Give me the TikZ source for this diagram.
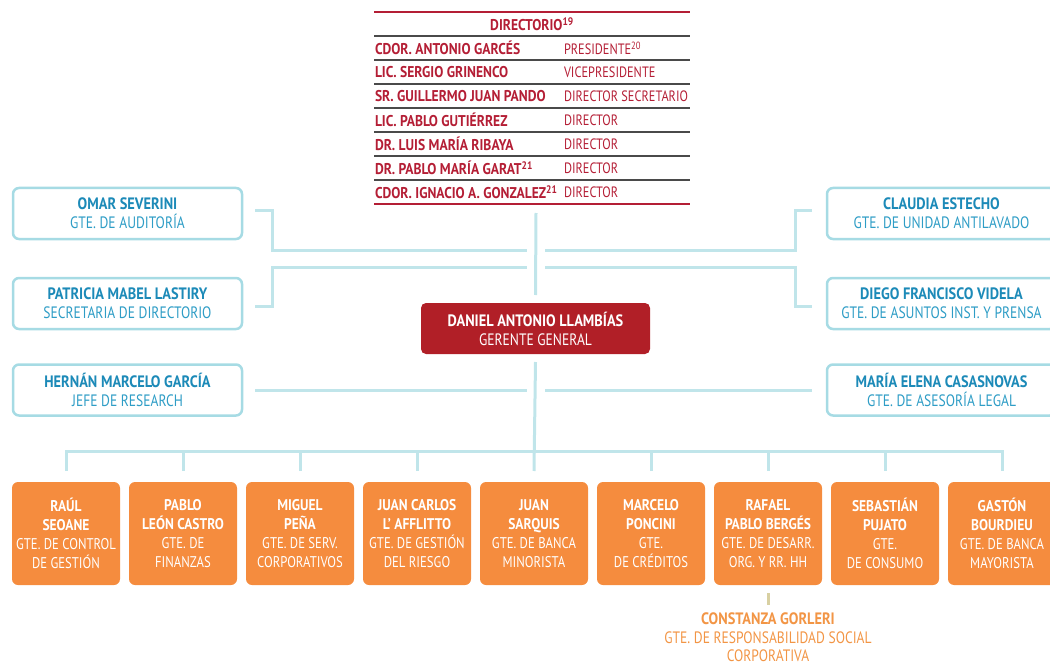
\documentclass[tikz,border=0pt]{standalone}
\usepackage{fontspec}
\setmainfont{PT Sans}[FakeStretch=0.82,BoldFeatures={FakeStretch=0.87}]
\usetikzlibrary{positioning}
\usetikzlibrary{backgrounds}
\usetikzlibrary{calc}
\definecolor{dirred}{HTML}{B41E35}
\definecolor{rulegray}{HTML}{4A4A4A}
\definecolor{sideblue}{HTML}{A6DBE4}
\definecolor{connblue}{HTML}{C0E5EA}
\definecolor{nameblue}{HTML}{1C8AB8}
\definecolor{titleblue}{HTML}{2E9DC6}
\definecolor{gerred}{HTML}{B11F27}
\definecolor{mgrorange}{HTML}{F58C3E}
\definecolor{rsorange}{HTML}{F29545}
\definecolor{rstan}{HTML}{D8D0A2}

\begin{document}
\begin{tikzpicture}[x=1pt,y=-1pt,
	txt/.style={font=\fontsize{16.5}{19}\selectfont,inner sep=0pt,outer sep=0pt},
	dirname/.style={txt,text=dirred,anchor=west,font=\fontsize{15.6}{19}\selectfont\bfseries},
	dirrole/.style={txt,text=dirred,anchor=west,font=\fontsize{15}{19}\selectfont},
	sidebox/.style={txt,draw=sideblue,line width=2.5pt,fill=white,rounded corners=6pt,minimum width=229pt,minimum height=51pt,align=center},
	gerbox/.style={txt,fill=gerred,text=white,rounded corners=5pt,minimum width=229pt,minimum height=51pt,align=center},
	mgrbox/.style={txt,font=\fontsize{15.5}{19}\selectfont,fill=mgrorange,text=white,rounded corners=6pt,minimum width=108pt,minimum height=103pt,align=center},
	conn/.style={connblue,line width=3pt},
	tabrule/.style={rulegray,line width=1.4pt}]

	\useasboundingbox (0,0) rectangle (1050,666);

	% directorio
	\draw[dirred,line width=1.2pt] (374,12) -- (690,12);
	\draw[tabrule] (374,36) -- (690,36);
	\draw[tabrule] (374,60) -- (690,60);
	\draw[tabrule] (374,84) -- (690,84);
	\draw[tabrule] (374,108) -- (690,108);
	\draw[tabrule] (374,132) -- (690,132);
	\draw[tabrule] (374,156) -- (690,156);
	\draw[tabrule] (374,180) -- (690,180);
	\draw[dirred,line width=1.2pt] (374,204) -- (690,204);

	\node[dirname,anchor=center] at (532,24) (dir) {DIRECTORIO\textsuperscript{19}};
	\node[dirname] at (375,48) (n1) {CDOR. ANTONIO GARCÉS};
	\node[dirname] at (375,72) (n2) {LIC. SERGIO GRINENCO};
	\node[dirname] at (375,96) (n3) {SR. GUILLERMO JUAN PANDO};
	\node[dirname] at (375,120) (n4) {LIC. PABLO GUTIÉRREZ};
	\node[dirname] at (375,144) (n5) {DR. LUIS MARÍA RIBAYA};
	\node[dirname] at (375,168) (n6) {DR. PABLO MARÍA GARAT\textsuperscript{21}};
	\node[dirname] at (375,192) (n7) {CDOR. IGNACIO A. GONZALEZ\textsuperscript{21}};
	\node[dirrole] at (564,48) (r1) {PRESIDENTE\textsuperscript{20}};
	\node[dirrole] at (564,72) (r2) {VICEPRESIDENTE};
	\node[dirrole] at (564,96) (r3) {DIRECTOR SECRETARIO};
	\node[dirrole] at (564,120) (r4) {DIRECTOR};
	\node[dirrole] at (564,144) (r5) {DIRECTOR};
	\node[dirrole] at (564,168) (r6) {DIRECTOR};
	\node[dirrole] at (564,192) (r7) {DIRECTOR};

	% gerencias de staff
	\node[sidebox] at (127.5,213.5) (omar)
	{\textcolor{nameblue}{\bfseries OMAR SEVERINI}\\\textcolor{titleblue}{GTE. DE AUDITORÍA}};
	\node[sidebox] at (127.5,303.5) (patricia)
	{\textcolor{nameblue}{\bfseries PATRICIA MABEL LASTIRY}\\\textcolor{titleblue}{SECRETARIA DE DIRECTORIO}};
	\node[sidebox] at (127.5,390) (hernan)
	{\textcolor{nameblue}{\bfseries HERNÁN MARCELO GARCÍA}\\\textcolor{titleblue}{JEFE DE RESEARCH}};
	\node[sidebox] at (941.5,213.5) (claudia)
	{\textcolor{nameblue}{\bfseries CLAUDIA ESTECHO}\\\textcolor{titleblue}{GTE. DE UNIDAD ANTILAVADO}};
	\node[sidebox] at (941.5,303.5) (diego)
	{\textcolor{nameblue}{\bfseries DIEGO FRANCISCO VIDELA}\\\textcolor{titleblue}{GTE. DE ASUNTOS INST. Y PRENSA}};
	\node[sidebox] at (941.5,390) (maria)
	{\textcolor{nameblue}{\bfseries MARÍA ELENA CASASNOVAS}\\\textcolor{titleblue}{GTE. DE ASESORÍA LEGAL}};

	\node[gerbox] at (535.5,328.5) (ger) {\bfseries DANIEL ANTONIO LLAMBÍAS\\GERENTE GENERAL};

	% gerencias de linea
	\node[mgrbox] at (66,533.5) (b1)
	{\bfseries RAÚL\\\bfseries SEOANE\\GTE. DE CONTROL\\DE GESTIÓN};
	\node[mgrbox,right = 9pt of b1] (b2)
	{\bfseries PABLO\\\bfseries LEÓN CASTRO\\GTE. DE\\FINANZAS};
	\node[mgrbox,right = 9pt of b2] (b3)
	{\bfseries MIGUEL\\\bfseries PEÑA\\GTE. DE SERV.\\CORPORATIVOS};
	\node[mgrbox,right = 9pt of b3] (b4)
	{\bfseries JUAN CARLOS\\\bfseries L' AFFLITTO\\GTE. DE GESTIÓN\\DEL RIESGO};
	\node[mgrbox,right = 9pt of b4] (b5)
	{\bfseries JUAN\\\bfseries SARQUIS\\GTE. DE BANCA\\MINORISTA};
	\node[mgrbox,right = 9pt of b5] (b6)
	{\bfseries MARCELO\\\bfseries PONCINI\\GTE.\\DE CRÉDITOS};
	\node[mgrbox,right = 9pt of b6] (b7)
	{\bfseries RAFAEL\\\bfseries PABLO BERGÉS\\GTE. DE DESARR.\\ORG. Y RR. HH};
	\node[mgrbox,right = 9pt of b7] (b8)
	{\bfseries SEBASTIÁN\\\bfseries PUJATO\\GTE.\\DE CONSUMO};
	\node[mgrbox,right = 9pt of b8] (b9)
	{\bfseries GASTÓN\\\bfseries BOURDIEU\\GTE. DE BANCA\\MAYORISTA};

	\node[txt,font=\fontsize{16.5}{18.5}\selectfont,below = 28pt of b7,align=center,text=rsorange] (cons)
	{\bfseries CONSTANZA GORLERI\\GTE. DE RESPONSABILIDAD SOCIAL\\CORPORATIVA};

	\coordinate (dirbot) at (536,213);
	\coordinate (hubl1) at (527,250);
	\coordinate (hubr1) at (545,250);
	\coordinate (hubl2) at (527,267);
	\coordinate (hubr2) at (545,267);
	\coordinate (hubl3) at (527,390);
	\coordinate (hubr3) at (545,390);

	\begin{scope}[on background layer]
		\draw[conn] (dirbot) to ([yshift=8pt]ger.north);
		\draw[conn] ([xshift=13pt,yshift=3pt]omar.east) -- ++(17,0) |- (hubl1);
		\draw[conn] ([xshift=13pt,yshift=-2.5pt]patricia.east) -- ++(17,0) |- (hubl2);
		\draw[conn] ([xshift=13pt]hernan.east) to (hubl3);
		\draw[conn] ([xshift=-15pt,yshift=3pt]claudia.west) -- ++(-17,0) |- (hubr1);
		\draw[conn] ([xshift=-15pt,yshift=-2.5pt]diego.west) -- ++(-17,0) |- (hubr2);
		\draw[conn] ([xshift=-15pt]maria.west) to (hubr3);
		\draw[conn] ([yshift=-8pt]ger.south) to ([yshift=11pt]b5.north);
		\draw[conn] ([yshift=11pt]b1.north) -- ++(0,-20) -| ([yshift=11pt]b9.north);
		\draw[conn] ([yshift=11pt]b2.north) -- ++(0,-20);
		\draw[conn] ([yshift=11pt]b3.north) -- ++(0,-20);
		\draw[conn] ([yshift=11pt]b4.north) -- ++(0,-20);
		\draw[conn] ([yshift=11pt]b6.north) -- ++(0,-20);
		\draw[conn] ([yshift=11pt]b7.north) -- ++(0,-20);
		\draw[conn] ([yshift=11pt]b8.north) -- ++(0,-20);
		\draw[rstan,line width=3pt] ([yshift=-8pt]b7.south) to ([yshift=8pt]cons.north);
	\end{scope}
\end{tikzpicture}
\end{document}
